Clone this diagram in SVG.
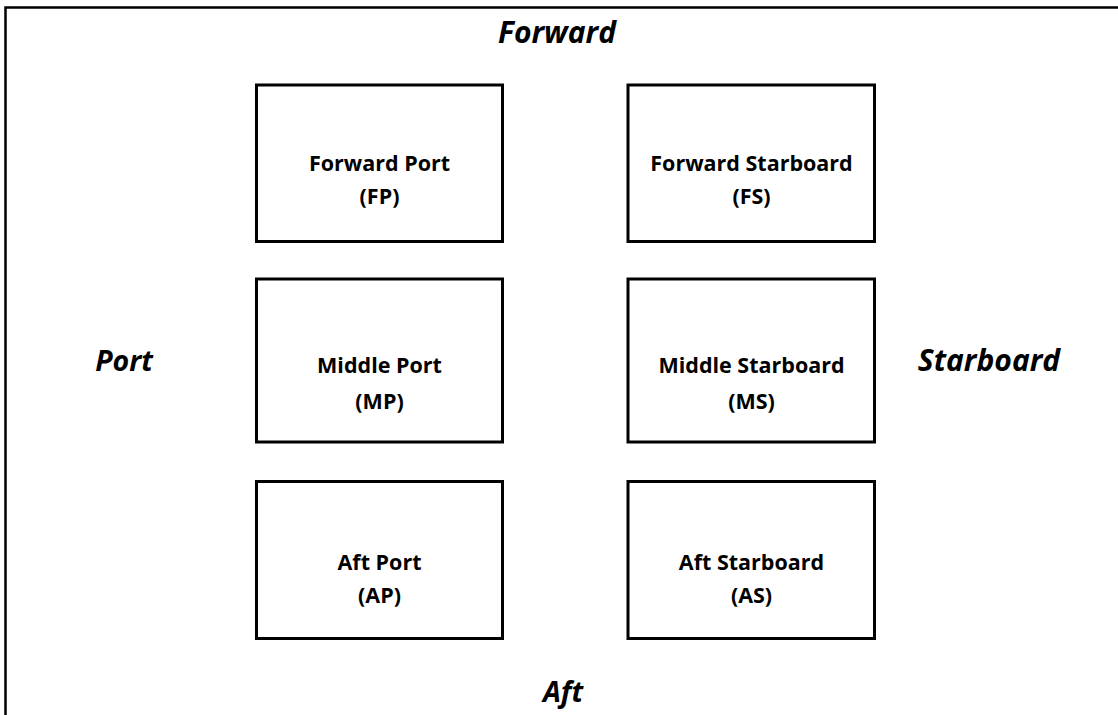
<svg xmlns="http://www.w3.org/2000/svg" width="1118" height="715" viewBox="0 0 1118 715">
<style>
.box{fill:#fff;stroke:#000;stroke-width:3}
.t{font-family:"Open Sans","Liberation Sans",sans-serif;font-weight:bold;font-size:21.5px;fill:#000;text-anchor:middle}
.side{font-family:"Open Sans","Liberation Sans",sans-serif;font-weight:bold;font-style:italic;font-size:28.5px;fill:#000;text-anchor:middle}
</style>
<rect width="1118" height="715" fill="#fff"/>
<path d="M5.5,715 V7.5 H1118" fill="none" stroke="#000" stroke-width="2.5"/>
<g id="labels">
<text class="side" x="557" y="43" style="font-size:30px">Forward</text>
<text class="side" x="124" y="371">Port</text>
<text class="side" x="989" y="371" style="font-size:30px">Starboard</text>
<text class="side" x="563" y="702">Aft</text>
</g>
<g id="connectors"></g>
<g id="FP"><rect class="box" x="256.5" y="85" width="246" height="156.5"/><text class="t" x="379.5" y="171">Forward Port</text><text class="t" x="379.5" y="204">(FP)</text></g>
<g id="FS"><rect class="box" x="628" y="85" width="246.5" height="156.5"/><text class="t" x="751.5" y="171">Forward Starboard</text><text class="t" x="751.5" y="204">(FS)</text></g>
<g id="MP"><rect class="box" x="256.5" y="279" width="246" height="163"/><text class="t" x="379.5" y="373">Middle Port</text><text class="t" x="379.5" y="409">(MP)</text></g>
<g id="MS"><rect class="box" x="628" y="279" width="246.5" height="163"/><text class="t" x="751.5" y="373">Middle Starboard</text><text class="t" x="751.5" y="409">(MS)</text></g>
<g id="AP"><rect class="box" x="256.5" y="481.5" width="246" height="157"/><text class="t" x="379.5" y="570">Aft Port</text><text class="t" x="379.5" y="603">(AP)</text></g>
<g id="AS"><rect class="box" x="628" y="481.5" width="246.5" height="157"/><text class="t" x="751.5" y="570">Aft Starboard</text><text class="t" x="751.5" y="603">(AS)</text></g>
</svg>
